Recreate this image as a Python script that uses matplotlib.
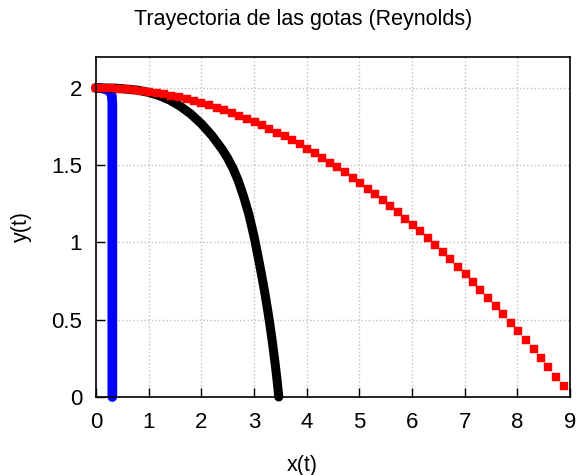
import matplotlib
matplotlib.use("Agg")
import matplotlib.pyplot as plt

plt.rcParams['font.family'] = ['Liberation Sans', 'DejaVu Sans']

# gota pequena (azul)
x_azul = [0.0, 0.10, 0.20, 0.27, 0.30, 0.31, 0.31, 0.31]
y_azul = [2.0, 1.998, 1.99, 1.975, 1.95, 1.90, 1.0, 0.0]

# gota mediana (negra)
x_negra = [0.0, 0.4, 0.8, 1.0, 1.2, 1.4, 1.6, 1.8, 2.0, 2.2, 2.4,
           2.5, 2.6, 2.7, 2.8, 2.9, 3.0, 3.05, 3.10, 3.15, 3.20,
           3.25, 3.30, 3.35, 3.40, 3.44, 3.47]
y_negra = [2.000, 1.998, 1.985, 1.971, 1.950, 1.921, 1.881, 1.831, 1.768, 1.692, 1.600,
           1.545, 1.480, 1.400, 1.300, 1.185, 1.040, 0.955, 0.868, 0.778, 0.684,
           0.582, 0.472, 0.352, 0.218, 0.102, 0.0]

# gota grande (roja)
x_roja = [0.00, 0.14, 0.29, 0.43, 0.57, 0.72, 0.86, 1.00, 1.15, 1.29,
          1.43, 1.58, 1.72, 1.86, 2.00, 2.15, 2.29, 2.43, 2.58, 2.72,
          2.86, 3.01, 3.15, 3.29, 3.44, 3.58, 3.72, 3.87, 4.01, 4.15,
          4.30, 4.44, 4.58, 4.73, 4.87, 5.01, 5.16, 5.30, 5.44, 5.58,
          5.73, 5.87, 6.01, 6.16, 6.30, 6.44, 6.59, 6.73, 6.87, 7.02,
          7.16, 7.30, 7.45, 7.59, 7.73, 7.88, 8.02, 8.16, 8.31, 8.45,
          8.59, 8.74, 8.88]
y_roja = [2.000, 1.999, 1.998, 1.995, 1.992, 1.987, 1.982, 1.975, 1.968, 1.959,
          1.950, 1.939, 1.928, 1.915, 1.902, 1.887, 1.871, 1.855, 1.837, 1.819,
          1.799, 1.778, 1.757, 1.734, 1.711, 1.686, 1.660, 1.634, 1.606, 1.577,
          1.548, 1.517, 1.486, 1.453, 1.419, 1.385, 1.349, 1.312, 1.275, 1.236,
          1.196, 1.155, 1.114, 1.071, 1.027, 0.983, 0.937, 0.890, 0.842, 0.794,
          0.744, 0.693, 0.641, 0.589, 0.535, 0.480, 0.424, 0.368, 0.310, 0.251,
          0.191, 0.130, 0.068]

xticks = [0, 1, 2, 3, 4, 5, 6, 7, 8, 9]
yticks = [0, 0.5, 1, 1.5, 2]
ytick_labels = ['0', '0.5', '1', '1.5', '2']

fig = plt.figure(figsize=(5.77, 4.75), dpi=100)
ax = fig.add_axes([0.1664, 0.1642, 0.8215, 0.7158])

ax.plot(x_azul, y_azul, color='blue', lw=7, solid_capstyle='round', solid_joinstyle='round', clip_on=False)
ax.plot(x_negra, y_negra, color='black', lw=6.5, solid_capstyle='round', solid_joinstyle='round', clip_on=False)
ax.plot(x_roja, y_roja, 's', color='red', ms=5.8, mec='red', mew=0.3, clip_on=False)

ax.set_xlim(0, 9)
ax.set_ylim(0, 2.2)
ax.set_xticks(xticks)
ax.set_yticks(yticks)
ax.set_yticklabels(ytick_labels)
ax.tick_params(direction='in', length=6.5, width=1, labelsize=16, top=False, right=False)
ax.tick_params(axis='x', pad=11)
ax.tick_params(axis='y', pad=10)
ax.grid(True, linestyle=':', color='#c0c0c0', lw=1)
for s in ax.spines.values():
    s.set_linewidth(1.2)

fig.text(303 / 577, 1 - 20 / 475, 'Trayectoria de las gotas (Reynolds)', ha='center', va='center', fontsize=15.5)
fig.text(302 / 577, 1 - 465 / 475, 'x(t)', ha='center', va='center', fontsize=15.5)
fig.text(21 / 577, 1 - 227 / 475, 'y(t)', ha='center', va='center', fontsize=15.5, rotation=90)

fig.savefig('out.png', dpi=100)
